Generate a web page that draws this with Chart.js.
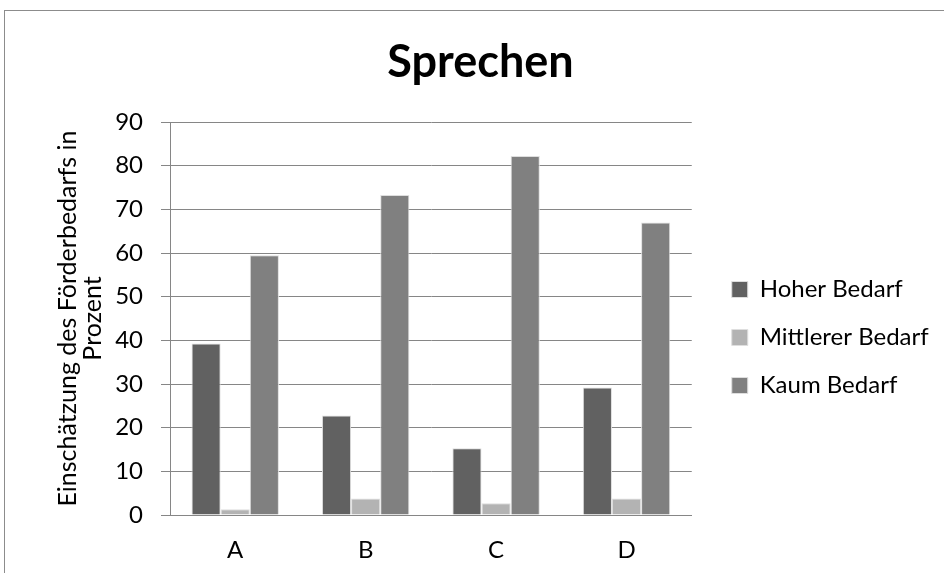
<!DOCTYPE html>
<html>
<head>
<meta charset="utf-8">
<script src="https://cdn.jsdelivr.net/npm/chart.js@4.4.1/dist/chart.umd.min.js"></script>
<style>
  html, body { margin: 0; padding: 0; background: #fff; overflow: hidden; }
  #wrap { position: relative; width: 944px; height: 573px; }
  #frame { position: absolute; left: 4px; top: 10px; width: 1000px; height: 1000px;
           border-left: 1px solid #8c8c8c; border-top: 1px solid #8c8c8c; }
  canvas { position: absolute; left: 0; top: 0; }
</style>
</head>
<body>
<div id="wrap">
  <div id="frame"></div>
  <canvas id="chart" width="944" height="573"></canvas>
</div>
<script>
// Schools / groups on the x axis
const categories = ['A', 'B', 'C', 'D'];

// Share of pupils per level of need (percent)
const hoherBedarf     = [39.3, 22.8, 15.3, 29.2];
const mittlererBedarf = [1.3, 3.8, 2.7, 3.8];
const kaumBedarf      = [59.5, 73.3, 82.2, 67.0];

const seriesNames = ['Hoher Bedarf', 'Mittlerer Bedarf', 'Kaum Bedarf'];
const seriesColors = ['#616161', '#b3b3b3', '#808080'];

const yTicks = { min: 0, max: 90, step: 10 };

const FONT = 'Lato, "Open Sans", sans-serif';
const GRID = '#868686';

// Extra room between the plot and the legend on the right
const LEGEND_GAP = 16;
const LEGEND_SHIFT_Y = 51;
const legendGap = {
  id: 'legendGap',
  afterInit(chart) {
    const lg = chart.legend;
    const fit = lg.fit;
    lg.fit = function () { fit.call(this); this.width += LEGEND_GAP; };
  },
  afterLayout(chart) {
    const lg = chart.legend;
    lg.left += LEGEND_GAP; lg.right += LEGEND_GAP;
    lg.top += LEGEND_SHIFT_Y; lg.bottom += LEGEND_SHIFT_Y;
  }
};

new Chart(document.getElementById('chart'), {
  type: 'bar',
  data: {
    labels: categories,
    datasets: [hoherBedarf, mittlererBedarf, kaumBedarf].map((d, i) => ({
      label: seriesNames[i],
      data: d,
      backgroundColor: seriesColors[i],
      borderColor: '#dedede',
      borderWidth: 1,
      categoryPercentage: 0.67,
      barPercentage: 1.0
    }))
  },
  options: {
    responsive: false,
    animation: false,
    layout: { padding: { left: 26, right: 9, top: 0, bottom: 0 } },
    plugins: {
      title: {
        display: true,
        text: 'Sprechen',
        color: '#000',
        font: { family: FONT, size: 45, weight: 'bold' },
        padding: { top: 35, bottom: 33 }
      },
      legend: {
        position: 'right',
        labels: {
          color: '#000',
          font: { family: FONT, size: 24 },
          boxWidth: 16,
          boxHeight: 16,
          padding: 24
        }
      },
      tooltip: { enabled: false }
    },
    scales: {
      x: {
        afterFit(scale) { scale.height = 58; },
        grid: { display: false, drawTicks: false },
        border: { display: true, color: GRID, width: 1 },
        ticks: { color: '#000', font: { family: FONT, size: 24 }, padding: 21 }
      },
      y: {
        min: yTicks.min,
        max: yTicks.max,
        afterFit(scale) { scale.width = 144; },
        grid: { color: GRID, lineWidth: 1, tickLength: 9, drawTicks: true },
        border: { display: true, color: GRID, width: 1 },
        ticks: { stepSize: yTicks.step, color: '#000', font: { family: FONT, size: 24 }, padding: 18 },
        title: {
          display: true,
          text: ['Einschätzung des Förderbedarfs in', 'Prozent'],
          color: '#000',
          font: { family: FONT, size: 25, lineHeight: 1.0 },
          padding: { top: 29, bottom: 0 }
        }
      }
    }
  },
  plugins: [legendGap]
});
</script>
</body>
</html>
